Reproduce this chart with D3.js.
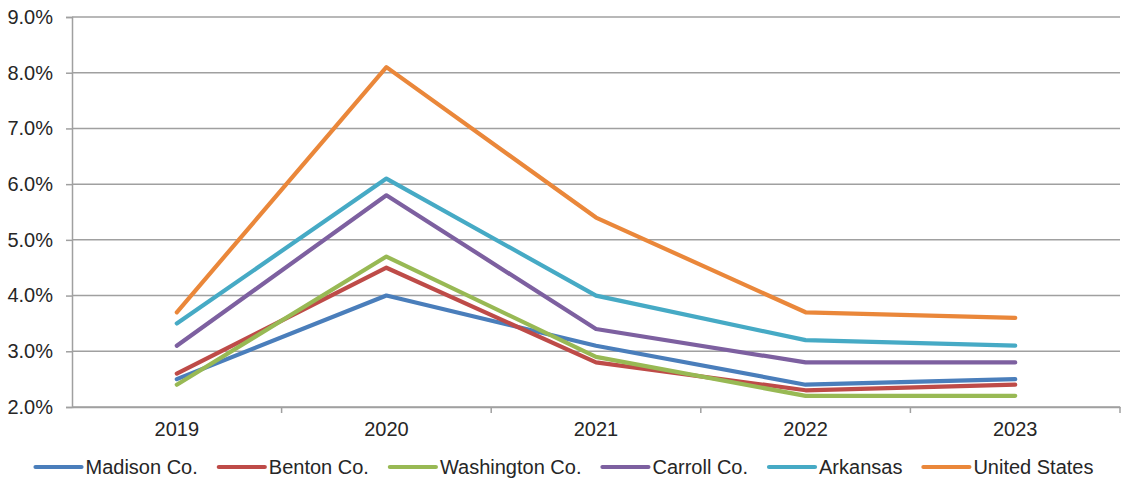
<!DOCTYPE html>
<html>
<head>
<meta charset="utf-8">
<script src="https://cdn.jsdelivr.net/npm/d3@7/dist/d3.min.js"></script>
<style>
  html, body { margin: 0; padding: 0; background: #ffffff; }
  svg { display: block; }
  text { font-family: "Liberation Sans", Arial, sans-serif; fill: #262626; }
</style>
</head>
<body>
<svg id="chart" width="1121" height="483"></svg>
<script>
// Unemployment rate by area, 2019–2023
const years = ["2019", "2020", "2021", "2022", "2023"];
const seriesNames = ["Madison Co.", "Benton Co.", "Washington Co.", "Carroll Co.", "Arkansas", "United States"];
const madison    = [2.5, 4.0, 3.1, 2.4, 2.5];
const benton     = [2.6, 4.5, 2.8, 2.3, 2.4];
const washington = [2.4, 4.7, 2.9, 2.2, 2.2];
const carroll    = [3.1, 5.8, 3.4, 2.8, 2.8];
const arkansas   = [3.5, 6.1, 4.0, 3.2, 3.1];
const unitedStates = [3.7, 8.1, 5.4, 3.7, 3.6];
const yTicks = [2, 3, 4, 5, 6, 7, 8, 9];
const colors = ["#4A7EBB", "#BE4B48", "#98B954", "#7D60A0", "#46AAC5", "#EA873A"];

const series = [madison, benton, washington, carroll, arkansas, unitedStates]
  .map((values, i) => ({ name: seriesNames[i], values, color: colors[i] }));

const svg = d3.select("#chart");
const plotLeft = 72, plotRight = 1120, plotTop = 17, plotBottom = 407;
const fontSize = 20;
const gridColor = "#A0A0A0";

const x = d3.scaleBand().domain(years).range([plotLeft, plotRight]);
const y = d3.scaleLinear().domain([2, 9]).range([plotBottom, plotTop]);

// horizontal gridlines
svg.append("g")
  .selectAll("line")
  .data(yTicks)
  .join("line")
  .attr("x1", plotLeft).attr("x2", plotRight)
  .attr("y1", d => y(d)).attr("y2", d => y(d))
  .attr("stroke", gridColor).attr("stroke-width", 1.5);

// y axis
const yAxis = svg.append("g")
  .attr("transform", `translate(${plotLeft},0)`)
  .call(d3.axisLeft(y).tickValues(yTicks).tickSize(6).tickPadding(13)
    .tickFormat(d => d.toFixed(1) + "%"));
yAxis.select(".domain").attr("stroke", gridColor).attr("stroke-width", 1.5);
yAxis.selectAll(".tick line").attr("stroke", gridColor).attr("stroke-width", 1.5);
yAxis.selectAll(".tick text").attr("font-size", fontSize).attr("fill", "#262626")
  .style("font-family", "'Liberation Sans', Arial, sans-serif");

// x axis with ticks on the category boundaries
const xAxis = svg.append("g")
  .attr("transform", `translate(0,${plotBottom})`)
  .call(d3.axisBottom(x).tickSize(0).tickPadding(15));
xAxis.select(".domain").attr("stroke", gridColor).attr("stroke-width", 1.5);
xAxis.selectAll(".tick text").attr("font-size", fontSize).attr("fill", "#262626")
  .style("font-family", "'Liberation Sans', Arial, sans-serif");
svg.append("g")
  .selectAll("line")
  .data(years.slice(1).concat([null]))
  .join("line")
  .attr("x1", d => d === null ? plotRight : x(d))
  .attr("x2", d => d === null ? plotRight : x(d))
  .attr("y1", plotBottom).attr("y2", plotBottom + 6)
  .attr("stroke", gridColor).attr("stroke-width", 1.5);

// series lines
const line = d3.line()
  .x((d, i) => x(years[i]) + x.bandwidth() / 2)
  .y(d => y(d));

svg.append("g")
  .selectAll("path")
  .data(series)
  .join("path")
  .attr("d", d => line(d.values))
  .attr("fill", "none")
  .attr("stroke", d => d.color)
  .attr("stroke-width", 4.2)
  .attr("stroke-linejoin", "round")
  .attr("stroke-linecap", "round");

// legend
const legend = svg.append("g");
const swatch = 46, swatchGap = 4, itemGap = 21, legendY = 467;
let cursor = 0;
series.forEach(s => {
  const g = legend.append("g");
  g.append("line")
    .attr("x1", 0).attr("x2", swatch)
    .attr("y1", 0).attr("y2", 0)
    .attr("stroke", s.color).attr("stroke-width", 4.2).attr("stroke-linecap", "round");
  const t = g.append("text")
    .attr("x", swatch + swatchGap).attr("y", 0)
    .attr("dy", "0.35em")
    .attr("font-size", fontSize)
    .text(s.name);
  const w = swatch + swatchGap + t.node().getComputedTextLength();
  g.attr("transform", `translate(${cursor},${legendY})`);
  cursor += w + itemGap;
});
const totalWidth = cursor - itemGap;
legend.attr("transform", `translate(${(36 + 1093) / 2 - totalWidth / 2},0)`);
</script>
</body>
</html>
